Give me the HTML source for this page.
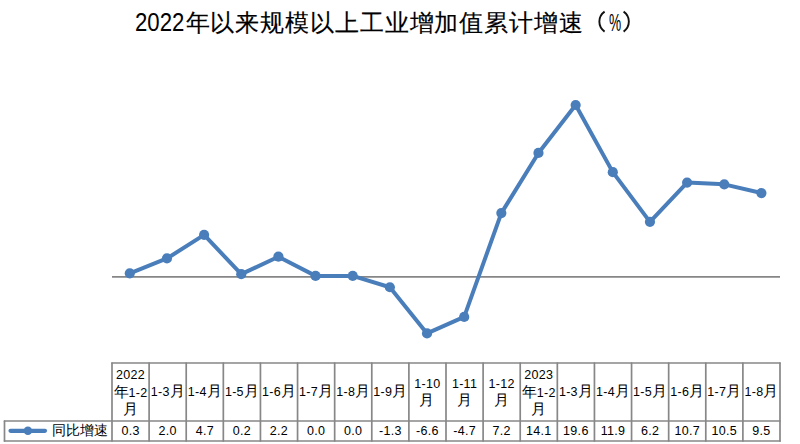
<!DOCTYPE html>
<html><head><meta charset="utf-8"><style>
html,body{margin:0;padding:0;background:#fff;width:800px;height:444px;overflow:hidden;position:relative;font-family:"Liberation Sans",sans-serif;color:#000}
svg{position:absolute;left:0;top:0}
.t{position:absolute;top:5.7px;white-space:nowrap;font-size:24px;line-height:34px;color:#000}
.t.c{letter-spacing:0.9px;-webkit-text-stroke:0.15px #000}
.t .d{font-size:25px;display:inline-block;transform:scaleX(0.888);transform-origin:0 50%}
.t .p{display:inline-block;transform:scaleX(0.57);transform-origin:0 50%;font-size:24px}
.h{position:absolute;top:363.0px;width:37.111px;height:58.0px;display:flex;align-items:center;justify-content:center;text-align:center;font-size:15px;line-height:16.7px;color:#000}
.h .d{font-size:12.5px;letter-spacing:0.3px}
.h .m{position:relative;top:-1px;left:-0.5px}
.v{position:absolute;top:421.0px;width:37.111px;height:20.0px;line-height:20.0px;text-align:center;font-size:12.5px;letter-spacing:0.3px;color:#000}
.lg{position:absolute;left:51.8px;top:419.8px;height:20px;line-height:20px;font-size:14px;letter-spacing:0.2px;color:#000}
</style></head><body>
<div class="t" style="left:134.8px;top:5.4px"><span class="d">2022</span></div><div class="t c" style="left:185.5px">年以来规模以上工业增加值累计增速</div><div class="t" style="left:608.5px;top:6px"><span class="p">%</span></div>
<svg width="800" height="444" viewBox="0 0 800 444">
<line x1="112" y1="276.8" x2="780" y2="276.8" stroke="#868686" stroke-width="1.7"/>
<polyline points="129.80,273.28 166.95,258.46 204.11,234.92 241.26,274.16 278.42,256.72 315.57,275.90 352.72,275.90 389.88,287.24 427.03,333.45 464.19,316.88 501.34,213.12 538.49,152.95 575.65,104.99 612.80,172.13 649.96,221.84 687.11,182.60 724.26,184.34 761.42,193.06" fill="none" stroke="#4a7ebb" stroke-width="4" stroke-linejoin="round"/>
<g fill="#4a7ebb"><circle cx="129.80" cy="273.28" r="5.1"/><circle cx="166.95" cy="258.46" r="5.1"/><circle cx="204.11" cy="234.92" r="5.1"/><circle cx="241.26" cy="274.16" r="5.1"/><circle cx="278.42" cy="256.72" r="5.1"/><circle cx="315.57" cy="275.90" r="5.1"/><circle cx="352.72" cy="275.90" r="5.1"/><circle cx="389.88" cy="287.24" r="5.1"/><circle cx="427.03" cy="333.45" r="5.1"/><circle cx="464.19" cy="316.88" r="5.1"/><circle cx="501.34" cy="213.12" r="5.1"/><circle cx="538.49" cy="152.95" r="5.1"/><circle cx="575.65" cy="104.99" r="5.1"/><circle cx="612.80" cy="172.13" r="5.1"/><circle cx="649.96" cy="221.84" r="5.1"/><circle cx="687.11" cy="182.60" r="5.1"/><circle cx="724.26" cy="184.34" r="5.1"/><circle cx="761.42" cy="193.06" r="5.1"/></g>
<g stroke="#878787" stroke-width="1.7" stroke-linecap="round"><line x1="112.0" y1="363.0" x2="780" y2="363.0"/><line x1="4.5" y1="421.0" x2="780" y2="421.0"/><line x1="4.5" y1="441.0" x2="780" y2="441.0"/><line x1="4.5" y1="421.0" x2="4.5" y2="441.0"/><line x1="112.00" y1="363.0" x2="112.00" y2="441.0"/><line x1="149.11" y1="363.0" x2="149.11" y2="441.0"/><line x1="186.22" y1="363.0" x2="186.22" y2="441.0"/><line x1="223.33" y1="363.0" x2="223.33" y2="441.0"/><line x1="260.44" y1="363.0" x2="260.44" y2="441.0"/><line x1="297.56" y1="363.0" x2="297.56" y2="441.0"/><line x1="334.67" y1="363.0" x2="334.67" y2="441.0"/><line x1="371.78" y1="363.0" x2="371.78" y2="441.0"/><line x1="408.89" y1="363.0" x2="408.89" y2="441.0"/><line x1="446.00" y1="363.0" x2="446.00" y2="441.0"/><line x1="483.11" y1="363.0" x2="483.11" y2="441.0"/><line x1="520.22" y1="363.0" x2="520.22" y2="441.0"/><line x1="557.33" y1="363.0" x2="557.33" y2="441.0"/><line x1="594.44" y1="363.0" x2="594.44" y2="441.0"/><line x1="631.56" y1="363.0" x2="631.56" y2="441.0"/><line x1="668.67" y1="363.0" x2="668.67" y2="441.0"/><line x1="705.78" y1="363.0" x2="705.78" y2="441.0"/><line x1="742.89" y1="363.0" x2="742.89" y2="441.0"/><line x1="780.00" y1="363.0" x2="780.00" y2="441.0"/></g>
<line x1="10.5" y1="430.8" x2="45" y2="430.8" stroke="#4a7ebb" stroke-width="4.2" stroke-linecap="round"/>
<circle cx="27.9" cy="430.8" r="4.3" fill="#4a7ebb"/>
<path d="M604.6,11.6 C597.6,16.5 597.6,26.7 604.6,31.6 M623.6,11.6 C630.6,16.5 630.6,26.7 623.6,31.6" fill="none" stroke="#111" stroke-width="1.9"/>
</svg>
<div class="h" style="left:112.00px"><div><span class=d>2022</span><br>年<span class=d>1-2</span><br>月</div></div><div class="v" style="left:112.00px">0.3</div><div class="h" style="left:149.11px"><div><span class=d>1-3</span>月</div></div><div class="v" style="left:149.11px">2.0</div><div class="h" style="left:186.22px"><div><span class=d>1-4</span>月</div></div><div class="v" style="left:186.22px">4.7</div><div class="h" style="left:223.33px"><div><span class=d>1-5</span>月</div></div><div class="v" style="left:223.33px">0.2</div><div class="h" style="left:260.44px"><div><span class=d>1-6</span>月</div></div><div class="v" style="left:260.44px">2.2</div><div class="h" style="left:297.56px"><div><span class=d>1-7</span>月</div></div><div class="v" style="left:297.56px">0.0</div><div class="h" style="left:334.67px"><div><span class=d>1-8</span>月</div></div><div class="v" style="left:334.67px">0.0</div><div class="h" style="left:371.78px"><div><span class=d>1-9</span>月</div></div><div class="v" style="left:371.78px">-1.3</div><div class="h" style="left:408.89px"><div><span class=d>1-10</span><br><span class=m>月</span></div></div><div class="v" style="left:408.89px">-6.6</div><div class="h" style="left:446.00px"><div><span class=d>1-11</span><br><span class=m>月</span></div></div><div class="v" style="left:446.00px">-4.7</div><div class="h" style="left:483.11px"><div><span class=d>1-12</span><br><span class=m>月</span></div></div><div class="v" style="left:483.11px">7.2</div><div class="h" style="left:520.22px"><div><span class=d>2023</span><br>年<span class=d>1-2</span><br>月</div></div><div class="v" style="left:520.22px">14.1</div><div class="h" style="left:557.33px"><div><span class=d>1-3</span>月</div></div><div class="v" style="left:557.33px">19.6</div><div class="h" style="left:594.44px"><div><span class=d>1-4</span>月</div></div><div class="v" style="left:594.44px">11.9</div><div class="h" style="left:631.56px"><div><span class=d>1-5</span>月</div></div><div class="v" style="left:631.56px">6.2</div><div class="h" style="left:668.67px"><div><span class=d>1-6</span>月</div></div><div class="v" style="left:668.67px">10.7</div><div class="h" style="left:705.78px"><div><span class=d>1-7</span>月</div></div><div class="v" style="left:705.78px">10.5</div><div class="h" style="left:742.89px"><div><span class=d>1-8</span>月</div></div><div class="v" style="left:742.89px">9.5</div>
<div class="lg">同比增速</div>
</body></html>
